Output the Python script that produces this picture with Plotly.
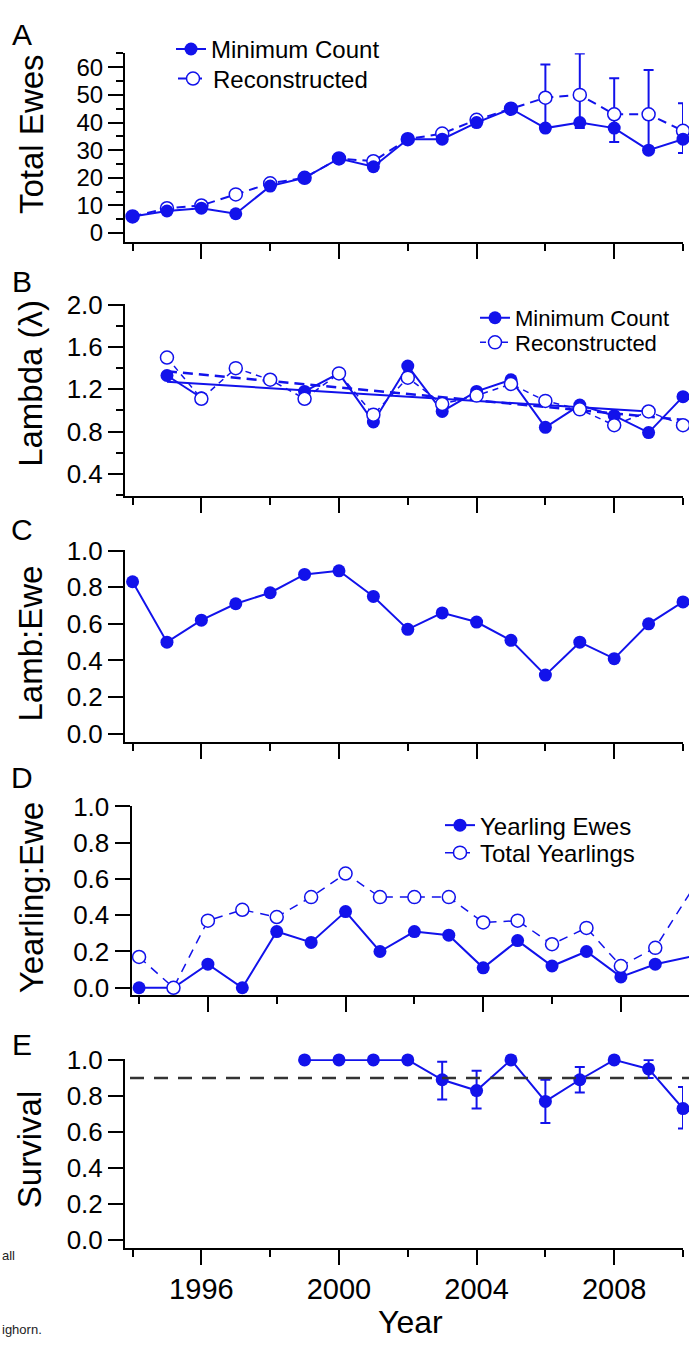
import plotly.graph_objects as go

# ---------------- data ----------------
years = list(range(1994, 2011))

# Panel A: total ewes
a_min_count = [6, 8, 9, 7, 17, 20, 27, 24, 34, 34, 40, 45, 38, 40, 38, 30, 34]
a_reconstructed = [6, 9, 10, 14, 18, 20, 27, 26, 34, 36, 41, 45, 49, 50, 43, 43, 37]
a_rec_upper = [None] * 12 + [61, 65, 56, 59, 47]
a_rec_lower = [None] * 12 + [37, 38, 33, 30, 29]

# Panel B: lambda
b_years = list(range(1995, 2011))
b_min_count = [1.33, 1.12, None, None, 1.18, 1.35, 0.89, 1.42, 0.99, 1.18, 1.29, 0.84, 1.05, 0.95, 0.79, 1.13]
b_reconstructed = [1.50, 1.11, 1.40, 1.29, 1.11, 1.35, 0.96, 1.31, 1.06, 1.14, 1.25, 1.09, 1.01, 0.86, 0.99, 0.86]
b_trend_years = [1995, 2009]
b_trend_min = [1.27, 0.99]
b_trend_rec_years = [1995, 2010]
b_trend_rec = [1.37, 0.91]

# Panel C: lamb:ewe
c_lamb_ewe = [0.83, 0.50, 0.62, 0.71, 0.77, 0.87, 0.89, 0.75, 0.57, 0.66, 0.61, 0.51, 0.32, 0.50, 0.41, 0.60, 0.72]

# Panel D: yearling:ewe
d_yearling_ewes = [0.0, 0.0, 0.13, 0.0, 0.31, 0.25, 0.42, 0.20, 0.31, 0.29, 0.11, 0.26, 0.12, 0.20, 0.06, 0.13, 0.17]
d_total_yearlings = [0.17, 0.0, 0.37, 0.43, 0.39, 0.50, 0.63, 0.50, 0.50, 0.50, 0.36, 0.37, 0.24, 0.33, 0.12, 0.22, 0.52]

# Panel E: survival
e_years = list(range(1999, 2011))
e_survival = [1.0, 1.0, 1.0, 1.0, 0.89, 0.83, 1.0, 0.77, 0.89, 1.0, 0.95, 0.73]
e_upper = [None, None, None, None, 0.99, 0.94, None, 0.89, 0.96, None, 1.0, 0.85]
e_lower = [None, None, None, None, 0.78, 0.73, None, 0.65, 0.82, None, 0.90, 0.62]
e_reference = 0.9

x_tick_labels = ["1996", "2000", "2004", "2008"]

# ---------------- style ----------------
W, H = 689, 1348
BLUE = "rgb(18,18,235)"
FONT = "Liberation Sans, Arial, sans-serif"


def xdom(px0, px1):
    return [px0 / W, min(px1 / W, 1.0)]


def ydom(top, bottom):
    return [1 - bottom / H, 1 - top / H]


def err_plus(vals, upper):
    return [None if u is None else u - v for v, u in zip(vals, upper)]


def err_minus(vals, lower):
    return [None if l is None else v - l for v, l in zip(vals, lower)]


filled = dict(symbol="circle", size=13, color=BLUE, line=dict(width=0))
opened = dict(symbol="circle", size=13, color="white", line=dict(width=1.5, color=BLUE))

fig = go.Figure()

# Panel A
fig.add_trace(go.Scatter(
    x=years, y=a_reconstructed, mode="lines+markers", name="Reconstructed",
    line=dict(color=BLUE, width=2, dash="9px,6px"), marker=opened,
    error_y=dict(type="data", symmetric=False,
                 array=err_plus(a_reconstructed, a_rec_upper),
                 arrayminus=err_minus(a_reconstructed, a_rec_lower),
                 color=BLUE, thickness=2, width=5),
    xaxis="x", yaxis="y", legend="legend2", cliponaxis=False))
fig.add_trace(go.Scatter(
    x=years, y=a_min_count, mode="lines+markers", name="Minimum Count",
    line=dict(color=BLUE, width=2), marker=filled,
    xaxis="x", yaxis="y", legend="legend", cliponaxis=False))

# Panel B
fig.add_trace(go.Scatter(
    x=b_trend_years, y=b_trend_min, mode="lines", showlegend=False,
    line=dict(color=BLUE, width=2), xaxis="x2", yaxis="y2"))
fig.add_trace(go.Scatter(
    x=b_trend_rec_years, y=b_trend_rec, mode="lines", showlegend=False,
    line=dict(color=BLUE, width=2.5, dash="10px,6px"), xaxis="x2", yaxis="y2"))
fig.add_trace(go.Scatter(
    x=b_years, y=b_min_count, mode="lines+markers", name="Minimum Count",
    line=dict(color=BLUE, width=2), marker=filled, connectgaps=False,
    xaxis="x2", yaxis="y2", legend="legend3", cliponaxis=False))
fig.add_trace(go.Scatter(
    x=b_years, y=b_reconstructed, mode="lines+markers", name="Reconstructed",
    line=dict(color=BLUE, width=1.5, dash="6px,5px"), marker=opened,
    xaxis="x2", yaxis="y2", legend="legend4", cliponaxis=False))

# Panel C
fig.add_trace(go.Scatter(
    x=years, y=c_lamb_ewe, mode="lines+markers", showlegend=False,
    line=dict(color=BLUE, width=2), marker=filled,
    xaxis="x3", yaxis="y3", cliponaxis=False))

# Panel D
fig.add_trace(go.Scatter(
    x=years, y=d_yearling_ewes, mode="lines+markers", name="Yearling Ewes",
    line=dict(color=BLUE, width=2), marker=filled,
    xaxis="x4", yaxis="y4", legend="legend5", cliponaxis=False))
fig.add_trace(go.Scatter(
    x=years, y=d_total_yearlings, mode="lines+markers", name="Total Yearlings",
    line=dict(color=BLUE, width=1.5, dash="9px,7px"), marker=opened,
    xaxis="x4", yaxis="y4", legend="legend6", cliponaxis=False))

# Panel E
fig.add_trace(go.Scatter(
    x=e_years, y=e_survival, mode="lines+markers", showlegend=False,
    line=dict(color=BLUE, width=2), marker=filled,
    error_y=dict(type="data", symmetric=False,
                 array=err_plus(e_survival, e_upper),
                 arrayminus=err_minus(e_survival, e_lower),
                 color=BLUE, thickness=2, width=5),
    xaxis="x5", yaxis="y5", cliponaxis=False))

# ---------------- axes ----------------
XR = [1993.78, 2010.0]


def xaxis(anchor, dom, rng, labels=False):
    return dict(
        domain=dom, range=rng, anchor=anchor,
        showline=True, linecolor="black", linewidth=2,
        ticks="outside", ticklen=15, tickwidth=2, tickcolor="black",
        tickmode="array", tickvals=[int(t) for t in x_tick_labels], ticktext=x_tick_labels,
        showticklabels=labels, tickfont=dict(size=29, color="black"),
        showgrid=False, zeroline=False, fixedrange=True,
        minor=dict(ticks="outside", ticklen=7, tickwidth=2, tickcolor="black",
                   tickmode="linear", tick0=1994, dtick=2, showgrid=False),
    )


def yaxis(anchor, dom, rng, tick0, dtick, fmt, size, minor_dtick=None):
    d = dict(
        domain=dom, range=rng, anchor=anchor,
        showline=True, linecolor="black", linewidth=2,
        ticks="outside", ticklen=15, tickwidth=2, tickcolor="black",
        tickmode="linear", tick0=tick0, dtick=dtick, tickformat=fmt,
        tickfont=dict(size=size, color="black"),
        showgrid=False, zeroline=False, fixedrange=True,
    )
    if minor_dtick:
        d["minor"] = dict(ticks="outside", ticklen=7, tickwidth=2, tickcolor="black",
                          tickmode="linear", tick0=tick0, dtick=minor_dtick, showgrid=False)
    return d


XD = xdom(125, 683)
fig.update_layout(
    xaxis=xaxis("y", XD, XR),
    yaxis=yaxis("x", ydom(40, 231.7), [-3.2, 65.05], 0, 10, "d", 24, 5),
    xaxis2=xaxis("y2", XD, XR),
    yaxis2=yaxis("x2", ydom(295, 490), [0.19, 2.005], 0.4, 0.4, ".1f", 26, 0.2),
    xaxis3=xaxis("y3", XD, XR),
    yaxis3=yaxis("x3", ydom(545, 740), [-0.045, 1.003], 0, 0.2, ".1f", 26),
    xaxis4=xaxis("y4", xdom(131.5, 689), [1993.78, 2009.98]),
    yaxis4=yaxis("x4", ydom(805, 997.3), [-0.04, 1.003], 0, 0.2, ".1f", 26),
    xaxis5=xaxis("y5", XD, XR, labels=True),
    yaxis5=yaxis("x5", ydom(1062.7, 1254), [-0.04, 1.003], 0, 0.2, ".1f", 26),
)


def leg(xpx, ypx, size):
    return dict(x=xpx / W, y=1 - ypx / H, xanchor="left", yanchor="middle",
                bgcolor="rgba(0,0,0,0)", itemwidth=30,
                font=dict(size=size, color="black", family=FONT))


fig.update_layout(
    legend=leg(171, 36, 24), legend2=leg(173, 66, 24),
    legend3=leg(475, 309, 22), legend4=leg(475, 334, 22),
    legend5=leg(440, 825, 24), legend6=leg(440, 853, 24),
)

# reference line in panel E
fig.add_shape(type="line", xref="paper", yref="y5", x0=130 / W, x1=1.0,
              y0=e_reference, y1=e_reference,
              line=dict(color="#333333", width=2.5, dash="14px,10px"))

# ---------------- text ----------------
ann = []


def rot_title(text, xc, yc, size=33):
    ann.append(dict(text=text, xref="paper", yref="paper", x=xc / W, y=1 - yc / H,
                    xanchor="center", yanchor="middle", textangle=-90, showarrow=False,
                    font=dict(size=size, color="black", family=FONT)))


rot_title("Total Ewes", 31, 122)
rot_title("Lambda (λ)", 31, 376)
rot_title("Lamb:Ewe", 31, 640)
rot_title("Yearling:Ewe", 31, 899)
rot_title("Survival", 29, 1155)

for letter, yc in [("A", 21), ("B", 272), ("C", 524), ("D", 776), ("E", 1048)]:
    ann.append(dict(text=letter, xref="paper", yref="paper", x=22 / W, y=1 - yc / H,
                    xanchor="center", yanchor="middle", showarrow=False,
                    font=dict(size=30, color="black", family=FONT)))

ann.append(dict(text="Year", xref="paper", yref="paper", x=410 / W, y=1 - 1330 / H,
                xanchor="center", yanchor="middle", showarrow=False,
                font=dict(size=32, color="black", family=FONT)))
ann.append(dict(text="all", xref="paper", yref="paper", x=0, y=1 - 1262 / H,
                xanchor="left", yanchor="middle", showarrow=False,
                font=dict(size=13, color="#222222", family=FONT)))
ann.append(dict(text="ighorn.", xref="paper", yref="paper", x=0, y=1 - 1337 / H,
                xanchor="left", yanchor="middle", showarrow=False,
                font=dict(size=13, color="#222222", family=FONT)))

fig.update_layout(
    annotations=ann,
    width=W, height=H,
    margin=dict(l=0, r=0, t=0, b=0),
    paper_bgcolor="white", plot_bgcolor="white",
    font=dict(family=FONT, color="black"),
    showlegend=True,
)

fig.write_html(
    "out.html",
    config={"displayModeBar": False},
    post_script="document.body.style.margin='0px';document.body.style.overflow='hidden';",
)
